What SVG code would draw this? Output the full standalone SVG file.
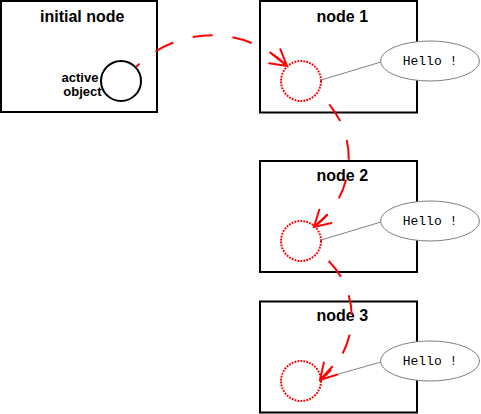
<svg xmlns="http://www.w3.org/2000/svg" width="481" height="414" viewBox="0 0 481 414">
<style>
.box{fill:#fff;stroke:#000;stroke-width:2}
.title{font-family:"Liberation Sans",Arial,sans-serif;font-weight:bold;font-size:16px;fill:#000}
.lbl{font-family:"Liberation Sans",Arial,sans-serif;font-weight:bold;font-size:13px;fill:#000}
.obj{fill:#fff;stroke:#000;stroke-width:2}
.ghost{fill:none;stroke:#ff0000;stroke-width:2;stroke-dasharray:1.8 1.2}
.bubble{fill:#fff;stroke:#808080;stroke-width:1}
.hello{font-family:"Liberation Mono","Courier New",monospace;font-size:13px;fill:#000}
.tie{stroke:#808080;stroke-width:1;fill:none}
.move{fill:none;stroke:#ff0000;stroke-width:2;stroke-dasharray:20 20}
.head{fill:none;stroke:#ff0000;stroke-width:2;stroke-linecap:round}
</style>
<rect width="481" height="414" fill="#fff"/>
<g id="initial-node">
<rect class="box" x="1" y="1" width="156" height="111"/>
<text class="title" x="40" y="22">initial node</text>
<circle class="obj" cx="121" cy="81" r="20"/>
<text class="lbl" x="61.5" y="82">active</text>
<text class="lbl" x="63.3" y="96">object</text>
</g>
<g id="node1">
<rect class="box" x="260" y="1" width="157" height="111.5"/>
<text class="title" x="316.5" y="22">node 1</text>
<circle class="ghost" cx="301" cy="81" r="20"/>
</g>
<g id="node2">
<rect class="box" x="260" y="161" width="157" height="111"/>
<text class="title" x="316.5" y="181">node 2</text>
<circle class="ghost" cx="301" cy="241" r="20"/>
</g>
<g id="node3">
<rect class="box" x="260" y="301.5" width="157" height="111"/>
<text class="title" x="316.5" y="321">node 3</text>
<circle class="ghost" cx="301" cy="381" r="20"/>
</g>
<g id="connectors">
<line class="tie" x1="381" y1="62" x2="321" y2="80"/>
<line class="tie" x1="381" y1="222" x2="321" y2="240"/>
<line class="tie" x1="381" y1="362" x2="321" y2="379"/>
<path class="move" stroke-dashoffset="15" d="M136,67 A107,107 0 0 1 287,66"/>
<path class="head" d="M269.2,63.3 L287,66 L280.4,49.3 M272.9,54.8 L287,66"/>
<path class="move" stroke-dashoffset="24" d="M318,93 A85,85 0 0 1 314,227"/>
<path class="head" d="M331.5,223 L314,227 L319.3,209.8 M327.2,214.7 L314,227"/>
<path class="move" stroke-dashoffset="26" d="M318,252 A79,79 0 0 1 320,380"/>
<path class="head" d="M337.2,374.6 L320,380 L323.9,362.4 M332.2,366.7 L320,380"/>
</g>
<g id="bubble1">
<ellipse class="bubble" cx="430" cy="61" rx="49.5" ry="20"/>
<text class="hello" x="430" y="65" text-anchor="middle">Hello !</text>
</g>
<g id="bubble2">
<ellipse class="bubble" cx="430" cy="221" rx="49.5" ry="20"/>
<text class="hello" x="430" y="225" text-anchor="middle">Hello !</text>
</g>
<g id="bubble3">
<ellipse class="bubble" cx="430" cy="361" rx="49.5" ry="20"/>
<text class="hello" x="430" y="365" text-anchor="middle">Hello !</text>
</g>
</svg>
